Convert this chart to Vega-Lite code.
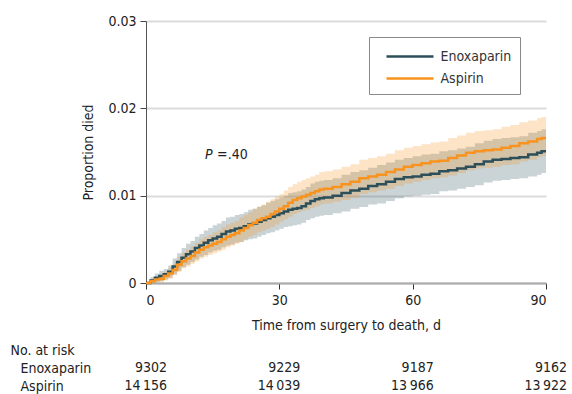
{
  "$schema": "https://vega.github.io/schema/vega-lite/v6.json",
  "padding": {"left": 10, "top": 14, "right": 2, "bottom": 0},
  "config": {
    "view": {"stroke": null},
    "font": "DejaVu Sans Condensed",
    "axis": {"labelFontSize": 14, "titleFontSize": 14, "titleFontWeight": "normal", "labelColor": "#222", "titleColor": "#222"},
    "text": {"font": "DejaVu Sans Condensed", "fontSize": 14, "color": "#222"}
  },
  "datasets": {
    "km": [
      {"g":"Enoxaparin","d":0,"p":0,"lo":0,"hi":0},
      {"g":"Enoxaparin","d":1,"p":0.0003,"lo":0.0000,"hi":0.0007},
      {"g":"Enoxaparin","d":2,"p":0.0006,"lo":0.0001,"hi":0.0011},
      {"g":"Enoxaparin","d":3,"p":0.0008,"lo":0.0002,"hi":0.0014},
      {"g":"Enoxaparin","d":4,"p":0.0010,"lo":0.0004,"hi":0.0016},
      {"g":"Enoxaparin","d":5,"p":0.0013,"lo":0.0006,"hi":0.0020},
      {"g":"Enoxaparin","d":6,"p":0.0019,"lo":0.0010,"hi":0.0028},
      {"g":"Enoxaparin","d":7,"p":0.0024,"lo":0.0014,"hi":0.0034},
      {"g":"Enoxaparin","d":8,"p":0.0029,"lo":0.0018,"hi":0.0040},
      {"g":"Enoxaparin","d":9,"p":0.0033,"lo":0.0021,"hi":0.0045},
      {"g":"Enoxaparin","d":10,"p":0.0036,"lo":0.0024,"hi":0.0048},
      {"g":"Enoxaparin","d":11,"p":0.0040,"lo":0.0027,"hi":0.0053},
      {"g":"Enoxaparin","d":12,"p":0.0043,"lo":0.0030,"hi":0.0056},
      {"g":"Enoxaparin","d":13,"p":0.0046,"lo":0.0032,"hi":0.0060},
      {"g":"Enoxaparin","d":14,"p":0.0049,"lo":0.0035,"hi":0.0063},
      {"g":"Enoxaparin","d":15,"p":0.0051,"lo":0.0037,"hi":0.0066},
      {"g":"Enoxaparin","d":16,"p":0.0053,"lo":0.0038,"hi":0.0068},
      {"g":"Enoxaparin","d":17,"p":0.0056,"lo":0.0041,"hi":0.0071},
      {"g":"Enoxaparin","d":18,"p":0.0059,"lo":0.0043,"hi":0.0075},
      {"g":"Enoxaparin","d":19,"p":0.0060,"lo":0.0044,"hi":0.0076},
      {"g":"Enoxaparin","d":20,"p":0.0062,"lo":0.0046,"hi":0.0078},
      {"g":"Enoxaparin","d":21,"p":0.0063,"lo":0.0047,"hi":0.0079},
      {"g":"Enoxaparin","d":22,"p":0.0065,"lo":0.0049,"hi":0.0081},
      {"g":"Enoxaparin","d":23,"p":0.0067,"lo":0.0050,"hi":0.0084},
      {"g":"Enoxaparin","d":24,"p":0.0068,"lo":0.0051,"hi":0.0085},
      {"g":"Enoxaparin","d":25,"p":0.0070,"lo":0.0053,"hi":0.0087},
      {"g":"Enoxaparin","d":26,"p":0.0072,"lo":0.0055,"hi":0.0089},
      {"g":"Enoxaparin","d":27,"p":0.0074,"lo":0.0057,"hi":0.0092},
      {"g":"Enoxaparin","d":28,"p":0.0076,"lo":0.0058,"hi":0.0094},
      {"g":"Enoxaparin","d":29,"p":0.0078,"lo":0.0060,"hi":0.0096},
      {"g":"Enoxaparin","d":30,"p":0.0080,"lo":0.0062,"hi":0.0098},
      {"g":"Enoxaparin","d":31,"p":0.0082,"lo":0.0064,"hi":0.0100},
      {"g":"Enoxaparin","d":32,"p":0.0084,"lo":0.0065,"hi":0.0103},
      {"g":"Enoxaparin","d":33,"p":0.0085,"lo":0.0066,"hi":0.0104},
      {"g":"Enoxaparin","d":34,"p":0.0086,"lo":0.0067,"hi":0.0105},
      {"g":"Enoxaparin","d":35,"p":0.0088,"lo":0.0069,"hi":0.0107},
      {"g":"Enoxaparin","d":36,"p":0.0091,"lo":0.0072,"hi":0.0110},
      {"g":"Enoxaparin","d":37,"p":0.0094,"lo":0.0074,"hi":0.0114},
      {"g":"Enoxaparin","d":38,"p":0.0096,"lo":0.0076,"hi":0.0116},
      {"g":"Enoxaparin","d":39,"p":0.0097,"lo":0.0077,"hi":0.0117},
      {"g":"Enoxaparin","d":40,"p":0.0098,"lo":0.0078,"hi":0.0118},
      {"g":"Enoxaparin","d":42,"p":0.0100,"lo":0.0080,"hi":0.0120},
      {"g":"Enoxaparin","d":44,"p":0.0103,"lo":0.0082,"hi":0.0124},
      {"g":"Enoxaparin","d":46,"p":0.0106,"lo":0.0085,"hi":0.0127},
      {"g":"Enoxaparin","d":48,"p":0.0108,"lo":0.0087,"hi":0.0129},
      {"g":"Enoxaparin","d":50,"p":0.0111,"lo":0.0090,"hi":0.0132},
      {"g":"Enoxaparin","d":52,"p":0.0113,"lo":0.0091,"hi":0.0135},
      {"g":"Enoxaparin","d":54,"p":0.0116,"lo":0.0094,"hi":0.0138},
      {"g":"Enoxaparin","d":56,"p":0.0119,"lo":0.0097,"hi":0.0141},
      {"g":"Enoxaparin","d":58,"p":0.0121,"lo":0.0099,"hi":0.0143},
      {"g":"Enoxaparin","d":60,"p":0.0122,"lo":0.0100,"hi":0.0145},
      {"g":"Enoxaparin","d":62,"p":0.0124,"lo":0.0101,"hi":0.0147},
      {"g":"Enoxaparin","d":64,"p":0.0125,"lo":0.0102,"hi":0.0148},
      {"g":"Enoxaparin","d":66,"p":0.0128,"lo":0.0105,"hi":0.0151},
      {"g":"Enoxaparin","d":68,"p":0.0129,"lo":0.0106,"hi":0.0152},
      {"g":"Enoxaparin","d":70,"p":0.0131,"lo":0.0108,"hi":0.0154},
      {"g":"Enoxaparin","d":72,"p":0.0133,"lo":0.0110,"hi":0.0156},
      {"g":"Enoxaparin","d":74,"p":0.0136,"lo":0.0112,"hi":0.0160},
      {"g":"Enoxaparin","d":76,"p":0.0139,"lo":0.0115,"hi":0.0163},
      {"g":"Enoxaparin","d":78,"p":0.0141,"lo":0.0117,"hi":0.0165},
      {"g":"Enoxaparin","d":80,"p":0.0142,"lo":0.0118,"hi":0.0166},
      {"g":"Enoxaparin","d":82,"p":0.0143,"lo":0.0119,"hi":0.0167},
      {"g":"Enoxaparin","d":84,"p":0.0144,"lo":0.0120,"hi":0.0168},
      {"g":"Enoxaparin","d":86,"p":0.0147,"lo":0.0122,"hi":0.0172},
      {"g":"Enoxaparin","d":88,"p":0.0149,"lo":0.0124,"hi":0.0174},
      {"g":"Enoxaparin","d":89,"p":0.0151,"lo":0.0126,"hi":0.0176},
      {"g":"Enoxaparin","d":90,"p":0.0151,"lo":0.0126,"hi":0.0176},
      {"g":"Aspirin","d":0,"p":0,"lo":0,"hi":0},
      {"g":"Aspirin","d":1,"p":0.0002,"lo":0.0000,"hi":0.0004},
      {"g":"Aspirin","d":2,"p":0.0004,"lo":0.0001,"hi":0.0007},
      {"g":"Aspirin","d":3,"p":0.0005,"lo":0.0001,"hi":0.0009},
      {"g":"Aspirin","d":4,"p":0.0008,"lo":0.0003,"hi":0.0013},
      {"g":"Aspirin","d":5,"p":0.0011,"lo":0.0005,"hi":0.0017},
      {"g":"Aspirin","d":6,"p":0.0015,"lo":0.0009,"hi":0.0022},
      {"g":"Aspirin","d":7,"p":0.0021,"lo":0.0013,"hi":0.0030},
      {"g":"Aspirin","d":8,"p":0.0025,"lo":0.0017,"hi":0.0035},
      {"g":"Aspirin","d":9,"p":0.0028,"lo":0.0019,"hi":0.0038},
      {"g":"Aspirin","d":10,"p":0.0031,"lo":0.0022,"hi":0.0042},
      {"g":"Aspirin","d":11,"p":0.0035,"lo":0.0025,"hi":0.0046},
      {"g":"Aspirin","d":12,"p":0.0038,"lo":0.0028,"hi":0.0050},
      {"g":"Aspirin","d":13,"p":0.0041,"lo":0.0030,"hi":0.0053},
      {"g":"Aspirin","d":14,"p":0.0043,"lo":0.0032,"hi":0.0055},
      {"g":"Aspirin","d":15,"p":0.0045,"lo":0.0034,"hi":0.0058},
      {"g":"Aspirin","d":16,"p":0.0047,"lo":0.0036,"hi":0.0060},
      {"g":"Aspirin","d":17,"p":0.0050,"lo":0.0038,"hi":0.0064},
      {"g":"Aspirin","d":18,"p":0.0053,"lo":0.0041,"hi":0.0067},
      {"g":"Aspirin","d":19,"p":0.0055,"lo":0.0043,"hi":0.0069},
      {"g":"Aspirin","d":20,"p":0.0057,"lo":0.0045,"hi":0.0071},
      {"g":"Aspirin","d":21,"p":0.0060,"lo":0.0047,"hi":0.0075},
      {"g":"Aspirin","d":22,"p":0.0063,"lo":0.0050,"hi":0.0078},
      {"g":"Aspirin","d":23,"p":0.0066,"lo":0.0053,"hi":0.0081},
      {"g":"Aspirin","d":24,"p":0.0069,"lo":0.0055,"hi":0.0085},
      {"g":"Aspirin","d":25,"p":0.0072,"lo":0.0058,"hi":0.0088},
      {"g":"Aspirin","d":26,"p":0.0074,"lo":0.0060,"hi":0.0090},
      {"g":"Aspirin","d":27,"p":0.0076,"lo":0.0062,"hi":0.0093},
      {"g":"Aspirin","d":28,"p":0.0079,"lo":0.0064,"hi":0.0096},
      {"g":"Aspirin","d":29,"p":0.0082,"lo":0.0067,"hi":0.0099},
      {"g":"Aspirin","d":30,"p":0.0085,"lo":0.0070,"hi":0.0102},
      {"g":"Aspirin","d":31,"p":0.0088,"lo":0.0073,"hi":0.0106},
      {"g":"Aspirin","d":32,"p":0.0092,"lo":0.0076,"hi":0.0110},
      {"g":"Aspirin","d":33,"p":0.0095,"lo":0.0079,"hi":0.0113},
      {"g":"Aspirin","d":34,"p":0.0097,"lo":0.0081,"hi":0.0116},
      {"g":"Aspirin","d":35,"p":0.0099,"lo":0.0083,"hi":0.0118},
      {"g":"Aspirin","d":36,"p":0.0101,"lo":0.0084,"hi":0.0120},
      {"g":"Aspirin","d":37,"p":0.0103,"lo":0.0086,"hi":0.0122},
      {"g":"Aspirin","d":38,"p":0.0105,"lo":0.0088,"hi":0.0124},
      {"g":"Aspirin","d":39,"p":0.0107,"lo":0.0090,"hi":0.0127},
      {"g":"Aspirin","d":40,"p":0.0108,"lo":0.0091,"hi":0.0128},
      {"g":"Aspirin","d":42,"p":0.0110,"lo":0.0093,"hi":0.0130},
      {"g":"Aspirin","d":44,"p":0.0113,"lo":0.0095,"hi":0.0133},
      {"g":"Aspirin","d":46,"p":0.0116,"lo":0.0098,"hi":0.0136},
      {"g":"Aspirin","d":48,"p":0.0120,"lo":0.0102,"hi":0.0141},
      {"g":"Aspirin","d":50,"p":0.0122,"lo":0.0104,"hi":0.0143},
      {"g":"Aspirin","d":52,"p":0.0124,"lo":0.0106,"hi":0.0145},
      {"g":"Aspirin","d":54,"p":0.0127,"lo":0.0108,"hi":0.0148},
      {"g":"Aspirin","d":56,"p":0.0130,"lo":0.0111,"hi":0.0152},
      {"g":"Aspirin","d":58,"p":0.0133,"lo":0.0114,"hi":0.0155},
      {"g":"Aspirin","d":60,"p":0.0135,"lo":0.0116,"hi":0.0157},
      {"g":"Aspirin","d":62,"p":0.0137,"lo":0.0118,"hi":0.0159},
      {"g":"Aspirin","d":64,"p":0.0139,"lo":0.0120,"hi":0.0161},
      {"g":"Aspirin","d":66,"p":0.0140,"lo":0.0121,"hi":0.0162},
      {"g":"Aspirin","d":68,"p":0.0143,"lo":0.0123,"hi":0.0166},
      {"g":"Aspirin","d":70,"p":0.0146,"lo":0.0126,"hi":0.0169},
      {"g":"Aspirin","d":72,"p":0.0149,"lo":0.0129,"hi":0.0172},
      {"g":"Aspirin","d":74,"p":0.0151,"lo":0.0131,"hi":0.0174},
      {"g":"Aspirin","d":76,"p":0.0152,"lo":0.0132,"hi":0.0175},
      {"g":"Aspirin","d":78,"p":0.0153,"lo":0.0133,"hi":0.0176},
      {"g":"Aspirin","d":80,"p":0.0155,"lo":0.0135,"hi":0.0179},
      {"g":"Aspirin","d":82,"p":0.0157,"lo":0.0136,"hi":0.0181},
      {"g":"Aspirin","d":84,"p":0.0160,"lo":0.0139,"hi":0.0184},
      {"g":"Aspirin","d":86,"p":0.0162,"lo":0.0141,"hi":0.0186},
      {"g":"Aspirin","d":88,"p":0.0165,"lo":0.0144,"hi":0.0189},
      {"g":"Aspirin","d":89,"p":0.0166,"lo":0.0145,"hi":0.0190},
      {"g":"Aspirin","d":90,"p":0.0166,"lo":0.0145,"hi":0.0190}
    ],
    "risk": [
      {"row":"Enoxaparin","d":0,"n":"9302"},
      {"row":"Enoxaparin","d":30,"n":"9229"},
      {"row":"Enoxaparin","d":60,"n":"9187"},
      {"row":"Enoxaparin","d":90,"n":"9162"},
      {"row":"Aspirin","d":0,"n":"14\u2009156"},
      {"row":"Aspirin","d":30,"n":"14\u2009039"},
      {"row":"Aspirin","d":60,"n":"13\u2009966"},
      {"row":"Aspirin","d":90,"n":"13\u2009922"}
    ]
  },
  "spacing": 9,
  "vconcat": [
    {
      "width": 400,
      "height": 262,
      "data": {"name": "km"},
      "encoding": {
        "x": {
          "field": "d", "type": "quantitative",
          "scale": {"domain": [0, 90], "nice": false},
          "axis": {"values": [0, 30, 60, 90], "title": "Time from surgery to death, d", "grid": false,
                   "tickSize": 6, "tickColor": "#333", "domainColor": "#aaaaaa", "domainWidth": 2,
                   "labelPadding": 4, "titlePadding": 11}
        },
        "y": {
          "field": "p", "type": "quantitative",
          "scale": {"domain": [0, 0.03], "nice": false},
          "axis": {"values": [0, 0.01, 0.02, 0.03], "title": "Proportion died",
                   "labelExpr": "datum.value == 0 ? '0' : format(datum.value, '.2f')",
                   "grid": true, "gridColor": "#dcdcdc", "gridWidth": 2,
                   "tickSize": 6, "tickColor": "#444", "domainColor": "#555",
                   "labelPadding": 4, "titlePadding": 12}
        }
      },
      "layer": [
        {
          "transform": [{"filter": "datum.g == 'Enoxaparin'"}],
          "mark": {"type": "area", "interpolate": "step-after", "color": "#2c4f5a", "opacity": 0.25},
          "encoding": {"y": {"field": "lo", "type": "quantitative"}, "y2": {"field": "hi"}}
        },
        {
          "transform": [{"filter": "datum.g == 'Aspirin'"}],
          "mark": {"type": "area", "interpolate": "step-after", "color": "#f7931e", "opacity": 0.25},
          "encoding": {"y": {"field": "lo", "type": "quantitative"}, "y2": {"field": "hi"}}
        },
        {
          "transform": [{"filter": "datum.g == 'Enoxaparin'"}],
          "mark": {"type": "line", "interpolate": "step-after", "strokeWidth": 2.5},
          "encoding": {
            "stroke": {"field": "g", "type": "nominal",
              "scale": {"domain": ["Enoxaparin", "Aspirin"], "range": ["#2c4f5a", "#f7931e"]},
              "legend": {"title": null, "orient": "none", "legendX": 223, "legendY": 16,
                "direction": "vertical", "symbolType": "M-2.35,0H2.35", "symbolSize": 400, "symbolStrokeWidth": 2.5,
                "labelFontSize": 14, "labelColor": "#333", "labelOffset": 19, "rowPadding": 3,
                "strokeColor": "#888", "padding": 8, "symbolOffset": 21.5}}
          }
        },
        {
          "transform": [{"filter": "datum.g == 'Aspirin'"}],
          "mark": {"type": "line", "interpolate": "step-after", "strokeWidth": 2.5},
          "encoding": {"stroke": {"field": "g", "type": "nominal"}}
        },
        {
          "data": {"values": [{"d": 13.3, "p": 0.0146, "t": "P"}]},
          "mark": {"type": "text", "align": "left", "baseline": "middle", "fontStyle": "italic", "fontSize": 14},
          "encoding": {"text": {"field": "t"}}
        },
        {
          "data": {"values": [{"d": 16.0, "p": 0.0146, "t": "=.40"}]},
          "mark": {"type": "text", "align": "left", "baseline": "middle", "fontSize": 14},
          "encoding": {"text": {"field": "t"}}
        }
      ]
    },
    {
      "width": 400,
      "height": 54,
      "data": {"name": "risk"},
      "mark": {"type": "text", "align": "right", "baseline": "middle", "dx": 21, "fontSize": 14},
      "encoding": {
        "x": {"field": "d", "type": "quantitative", "scale": {"domain": [0, 90], "nice": false}, "axis": null},
        "y": {"field": "row", "type": "nominal",
          "scale": {"domain": ["No. at risk", "Enoxaparin", "Aspirin"]},
          "axis": {"title": null, "domain": false, "ticks": false, "grid": false,
            "labelAlign": "left", "labelFontSize": 14, "labelColor": "#222",
            "labelPadding": {"condition": {"test": "datum.value == 'No. at risk'", "value": 136}, "value": 126}}},
        "text": {"field": "n"}
      }
    }
  ]
}
